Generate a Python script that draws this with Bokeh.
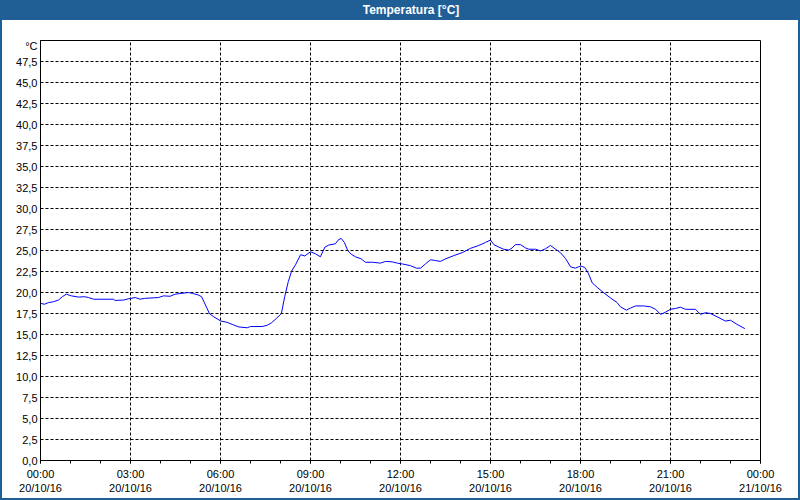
from bokeh.plotting import figure
from bokeh.models import FixedTicker, Range1d, ColumnDataSource, Div
from bokeh.layouts import column, row
from bokeh.embed import file_html
from bokeh.resources import INLINE

# Time (hours since 20/10/16 00:00) and temperature readings (°C)
hours = [0.02, 0.13, 0.27, 0.43, 0.60, 0.73, 0.86, 1.03, 1.27, 1.47, 1.60, 1.77,
         2.43, 2.49, 2.77, 2.93, 3.16, 3.32, 3.47, 3.93, 4.10, 4.32, 4.49, 4.71,
         4.93, 5.06, 5.26, 5.37, 5.50, 5.63, 5.78, 6.01, 6.22, 6.39, 6.61, 6.89,
         7.00, 7.39, 7.56, 7.70, 7.86, 8.03, 8.14, 8.26, 8.37, 8.50, 8.67, 8.81,
         9.00, 9.17, 9.33, 9.48, 9.61, 9.83, 9.91, 10.02, 10.13, 10.24, 10.36, 10.50,
         10.69, 10.83, 11.06, 11.33, 11.50, 11.72, 11.89, 12.06, 12.33, 12.53, 12.67, 12.83,
         13.00, 13.17, 13.33, 13.50, 13.78, 14.06, 14.33, 14.61, 14.83, 15.00, 15.11, 15.28,
         15.44, 15.61, 15.72, 15.83, 16.00, 16.17, 16.28, 16.50, 16.67, 16.83, 17.00, 17.17,
         17.33, 17.50, 17.67, 17.83, 18.00, 18.14, 18.26, 18.39, 18.56, 18.78, 19.00, 19.22,
         19.33, 19.53, 19.67, 19.83, 20.11, 20.33, 20.50, 20.67, 20.83, 21.00, 21.17, 21.33,
         21.50, 21.83, 22.00, 22.17, 22.33, 22.56, 22.83, 23.00, 23.22, 23.48]
temps = [18.7, 18.6, 18.8, 18.9, 19.1, 19.5, 19.8, 19.6, 19.45, 19.5, 19.4, 19.2,
         19.2, 19.05, 19.1, 19.25, 19.4, 19.2, 19.3, 19.4, 19.6, 19.55, 19.8, 19.9,
         20.0, 19.9, 19.7, 19.5, 18.5, 17.5, 17.1, 16.6, 16.45, 16.2, 15.9, 15.8,
         15.95, 15.95, 16.1, 16.4, 16.9, 17.5, 19.5, 21.3, 22.55, 23.3, 24.5, 24.35,
         24.85, 24.6, 24.25, 25.4, 25.65, 25.8, 26.2, 26.45, 25.95, 25.0, 24.55, 24.25,
         24.0, 23.6, 23.6, 23.5, 23.7, 23.65, 23.5, 23.4, 23.2, 22.9, 22.9, 23.4,
         23.9, 23.8, 23.7, 24.0, 24.4, 24.75, 25.25, 25.6, 25.95, 26.25, 25.7, 25.4,
         25.15, 25.05, 25.3, 25.7, 25.7, 25.3, 25.15, 25.15, 24.95, 25.2, 25.6, 25.15,
         24.75, 24.05, 23.05, 22.9, 23.15, 23.0, 22.3, 21.15, 20.6, 19.95, 19.35, 18.8,
         18.3, 17.9, 18.15, 18.4, 18.4, 18.3, 18.0, 17.4, 17.65, 18.0, 18.1, 18.25,
         18.0, 18.0, 17.4, 17.6, 17.5, 17.1, 16.6, 16.7, 16.2, 15.7]

x_ticks = [0, 3, 6, 9, 12, 15, 18, 21, 24]
x_labels = ["00:00\n20/10/16", "03:00\n20/10/16", "06:00\n20/10/16", "09:00\n20/10/16",
            "12:00\n20/10/16", "15:00\n20/10/16", "18:00\n20/10/16", "21:00\n20/10/16",
            "00:00\n21/10/16"]
y_ticks = [0, 2.5, 5, 7.5, 10, 12.5, 15, 17.5, 20, 22.5, 25, 27.5, 30, 32.5, 35,
           37.5, 40, 42.5, 45, 47.5]
y_labels = ["0,0", "2,5", "5,0", "7,5", "10,0", "12,5", "15,0", "17,5", "20,0", "22,5",
            "25,0", "27,5", "30,0", "32,5", "35,0", "37,5", "40,0", "42,5", "45,0",
            "47,5"]
unit_tick = 49.3          # where the unit caption sits on the value axis
unit_label = "°C"
title_text = "Temperatura [°C]"

FONT = "Liberation Sans"
BLUE = "#1f5f96"

src = ColumnDataSource(dict(h=hours, t=temps))

p = figure(width=796, height=478, x_range=Range1d(0, 24), y_range=Range1d(0, 50),
           output_backend="svg", toolbar_location=None, margin=0,
           min_border_left=38, min_border_right=38, min_border_top=20, min_border_bottom=38)
p.background_fill_color = "white"
p.border_fill_color = "white"
p.outline_line_color = "black"
p.outline_line_alpha = 1.0
p.outline_line_width = 1

p.line("h", "t", source=src, line_color="#0000ff", line_width=1)

# X axis
xa = p.xaxis[0]
xa.ticker = FixedTicker(ticks=x_ticks, minor_ticks=list(range(0, 25)))
xa.major_label_overrides = {t: l for t, l in zip(x_ticks, x_labels)}
xa.major_tick_out = 3
xa.major_tick_in = 0
xa.minor_tick_out = 3
xa.minor_tick_in = 0
xa.major_label_standoff = 4
xa.major_label_text_font = FONT
xa.major_label_text_font_size = "11px"
xa.major_label_text_color = "black"
xa.axis_line_color = "black"
xa.major_tick_line_color = "black"
xa.minor_tick_line_color = "black"

# Y axis
ya = p.yaxis[0]
ya.ticker = FixedTicker(ticks=y_ticks + [unit_tick])
overrides = {t: l for t, l in zip(y_ticks, y_labels)}
overrides[unit_tick] = unit_label
ya.major_label_overrides = overrides
ya.major_tick_out = 0
ya.major_tick_in = 0
ya.minor_tick_out = 0
ya.minor_tick_in = 0
ya.major_label_standoff = 3
ya.major_label_text_font = FONT
ya.major_label_text_font_size = "11px"
ya.major_label_text_color = "black"
ya.axis_line_color = "black"

# Grids
p.xgrid.ticker = FixedTicker(ticks=x_ticks[1:-1])
p.ygrid.ticker = FixedTicker(ticks=y_ticks[1:])
for g in (p.xgrid[0], p.ygrid[0]):
    g.grid_line_color = "black"
    g.grid_line_dash = "3 2"
    g.grid_line_width = 1
    g.grid_line_alpha = 1.0

# Window chrome
title = Div(text=title_text, width=800, height=20, margin=0,
            styles={"background-color": BLUE, "color": "white", "font-weight": "bold",
                    "text-align": "center", "font-family": FONT, "font-size": "12px",
                    "line-height": "20px", "text-indent": "22px", "overflow": "hidden"})
left_strip = Div(text="", width=2, height=478, margin=0, styles={"background-color": BLUE})
right_strip = Div(text="", width=2, height=478, margin=0, styles={"background-color": BLUE})
bottom_strip = Div(text="", width=800, height=2, margin=0, styles={"background-color": BLUE})

layout = column(title, row(left_strip, p, right_strip, spacing=0, margin=0),
                bottom_strip, spacing=0, margin=0)

open("out.html", "w").write(file_html(layout, INLINE))
